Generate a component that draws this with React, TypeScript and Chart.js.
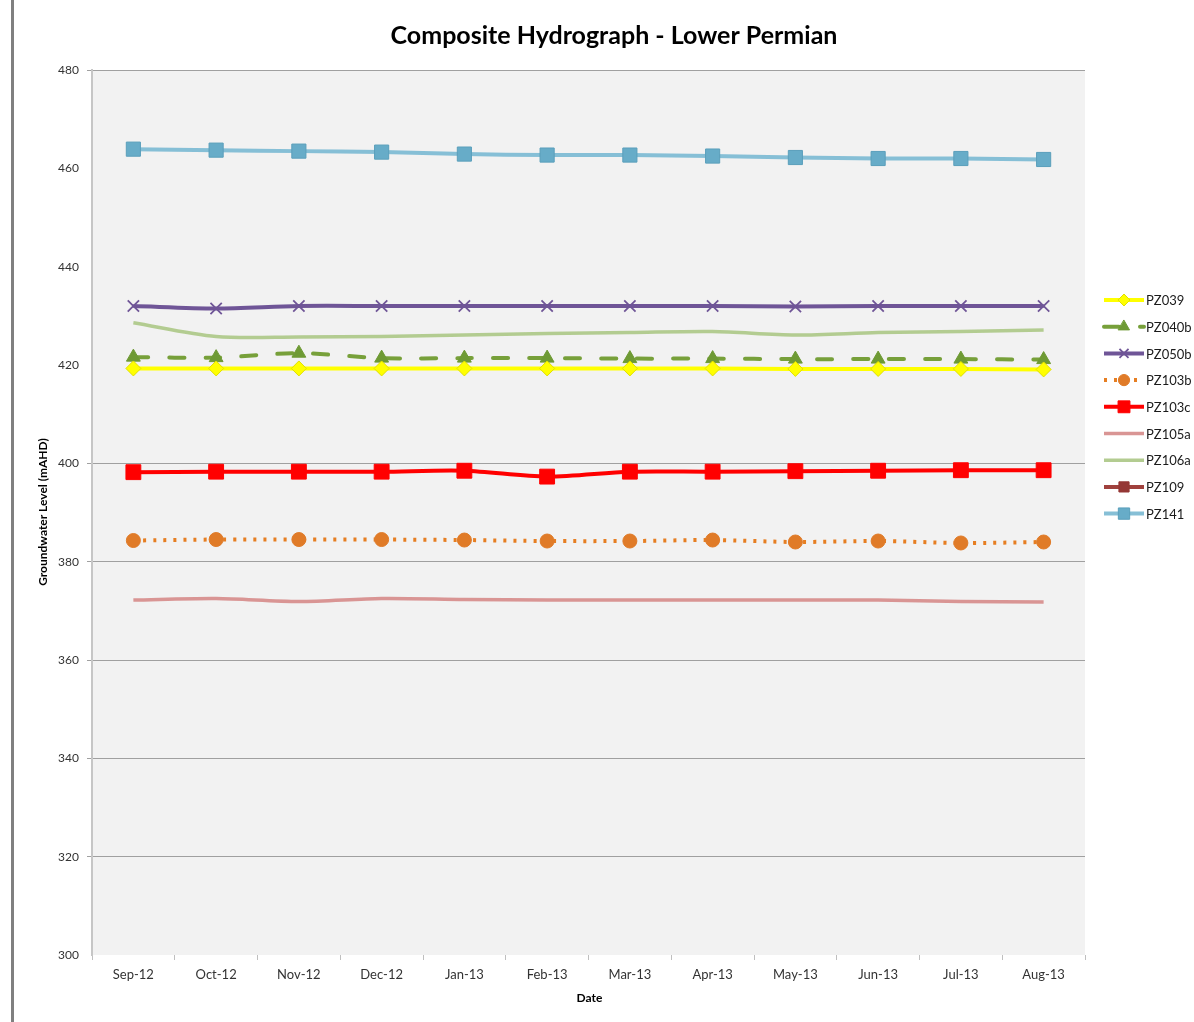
import React, { useEffect, useRef } from 'react';
import { Chart, registerables } from 'chart.js';
import { drawPoint } from 'chart.js/helpers';

Chart.register(...registerables);

const dates = ['Sep-12', 'Oct-12', 'Nov-12', 'Dec-12', 'Jan-13', 'Feb-13', 'Mar-13', 'Apr-13', 'May-13', 'Jun-13', 'Jul-13', 'Aug-13'];
const pz039 = [419.3, 419.3, 419.3, 419.3, 419.3, 419.3, 419.3, 419.3, 419.2, 419.2, 419.2, 419.1];
const pz040b = [421.6, 421.5, 422.4, 421.4, 421.4, 421.4, 421.3, 421.3, 421.2, 421.2, 421.2, 421.1];
const pz050b = [432.0, 431.5, 432.0, 432.0, 432.0, 432.0, 432.0, 432.0, 431.9, 432.0, 432.0, 432.0];
const pz103b = [384.3, 384.5, 384.5, 384.5, 384.4, 384.2, 384.2, 384.4, 384.0, 384.2, 383.8, 384.0];
const pz103c = [398.2, 398.3, 398.3, 398.3, 398.5, 397.3, 398.3, 398.3, 398.4, 398.5, 398.6, 398.6];
const pz105a = [372.2, 372.5, 371.9, 372.5, 372.3, 372.2, 372.2, 372.2, 372.2, 372.2, 371.9, 371.8];
const pz106a = [428.6, 425.8, 425.7, 425.8, 426.1, 426.4, 426.6, 426.8, 426.1, 426.6, 426.8, 427.1];
const pz109: (number | null)[] = [null, null, null, null, null, null, null, null, null, null, null, null];
const pz141 = [463.9, 463.7, 463.5, 463.3, 462.9, 462.7, 462.7, 462.5, 462.2, 462.0, 462.0, 461.8];

const yTicks = [300, 320, 340, 360, 380, 400, 420, 440, 460, 480];
const hiddenGrid = [300, 420, 440, 460];

const chartTitle = 'Composite Hydrograph - Lower Permian';
const xTitle = 'Date';
const yTitle = 'Groundwater Level (mAHD)';

const FONT = 'Lato';

const decoPlugin = {
  id: 'deco',
  beforeDraw(chart: any) {
    const { ctx, chartArea: a } = chart;
    ctx.save();
    ctx.fillStyle = '#ffffff';
    ctx.fillRect(0, 0, chart.width, chart.height);
    ctx.fillStyle = '#f2f2f2';
    ctx.fillRect(a.left, a.top, a.right - a.left, a.bottom - a.top);
    ctx.restore();
  },
  afterDraw(chart: any) {
    const { ctx, chartArea: a } = chart;
    ctx.save();
    // page border
    ctx.fillStyle = '#808080';
    ctx.fillRect(11, 0, 3, chart.height);
    // title
    ctx.fillStyle = '#000';
    ctx.font = `bold 25px ${FONT}`;
    ctx.textAlign = 'center';
    ctx.textBaseline = 'middle';
    ctx.fillText(chartTitle, 614, 36);
    // axis titles
    ctx.font = `bold 12px ${FONT}`;
    ctx.fillText(xTitle, (a.left + a.right) / 2 + 1, 998);
    ctx.save();
    ctx.translate(43, 512);
    ctx.rotate(-Math.PI / 2);
    ctx.fillText(yTitle, 0, 0);
    ctx.restore();
    // legend
    chart.data.datasets.forEach((ds: any, i: number) => {
      const y = 300 + i * 26.7;
      ctx.save();
      ctx.strokeStyle = ds.borderColor;
      ctx.lineWidth = ds.borderWidth;
      ctx.lineCap = ds.borderCapStyle || 'butt';
      ctx.setLineDash(ds.borderDash || []);
      ctx.beginPath();
      ctx.moveTo(1104, y);
      ctx.lineTo(1144, y);
      ctx.stroke();
      ctx.setLineDash([]);
      if (ds.pointRadius > 0) {
        ctx.fillStyle = ds.pointBackgroundColor;
        ctx.strokeStyle = ds.pointBorderColor;
        ctx.lineWidth = ds.pointBorderWidth;
        drawPoint(ctx, { pointStyle: ds.pointStyle, radius: ds.pointRadius * 0.8, rotation: 0, borderWidth: ds.pointBorderWidth } as any, 1124, y);
      }
      ctx.restore();
      ctx.fillStyle = '#1a1a1a';
      ctx.font = `13px ${FONT}`;
      ctx.textAlign = 'left';
      ctx.textBaseline = 'middle';
      ctx.fillText(ds.label, 1146, y + 1);
    });
    ctx.restore();
  },
};

export default function App() {
  const ref = useRef<HTMLCanvasElement>(null);
  useEffect(() => {
    const tension = 0.3;
    const chart = new Chart(ref.current!, {
      type: 'line',
      data: {
        labels: dates,
        datasets: [
          {
            label: 'PZ039', data: pz039, borderColor: '#ffff00', borderWidth: 4, tension,
            pointStyle: 'rectRot', pointRadius: 7.5, pointBackgroundColor: '#ffff00', pointBorderColor: '#e0e000', pointBorderWidth: 1,
          },
          {
            label: 'PZ040b', data: pz040b, borderColor: '#77a03a', borderWidth: 4, borderDash: [15, 21], borderCapStyle: 'round', tension,
            pointStyle: 'triangle', pointRadius: 8, pointBackgroundColor: '#6e9a34', pointBorderColor: '#6e9a34', pointBorderWidth: 1,
          },
          {
            label: 'PZ050b', data: pz050b, borderColor: '#6f5597', borderWidth: 4, tension,
            pointStyle: 'crossRot', pointRadius: 8, pointBackgroundColor: '#6f5597', pointBorderColor: '#6f5597', pointBorderWidth: 1.8,
          },
          {
            label: 'PZ103b', data: pz103b, borderColor: '#e67e22', borderWidth: 4, borderDash: [3, 7], tension,
            pointStyle: 'circle', pointRadius: 7, pointBackgroundColor: '#e07b28', pointBorderColor: '#e07b28', pointBorderWidth: 1,
          },
          {
            label: 'PZ103c', data: pz103c, borderColor: '#ff0000', borderWidth: 4, tension,
            pointStyle: 'rect', pointRadius: 10.5, pointBackgroundColor: '#ff0000', pointBorderColor: '#ff0000', pointBorderWidth: 1,
          },
          {
            label: 'PZ105a', data: pz105a, borderColor: '#d99594', borderWidth: 3.5, tension,
            pointStyle: 'circle', pointRadius: 0, pointBackgroundColor: '#d99594', pointBorderColor: '#d99594', pointBorderWidth: 1,
          },
          {
            label: 'PZ106a', data: pz106a, borderColor: '#b3cc91', borderWidth: 3.5, tension,
            pointStyle: 'circle', pointRadius: 0, pointBackgroundColor: '#b3cc91', pointBorderColor: '#b3cc91', pointBorderWidth: 1,
          },
          {
            label: 'PZ109', data: pz109, borderColor: '#a0413d', borderWidth: 4, tension,
            pointStyle: 'rect', pointRadius: 9, pointBackgroundColor: '#953735', pointBorderColor: '#953735', pointBorderWidth: 1,
          },
          {
            label: 'PZ141', data: pz141, borderColor: '#86bfd6', borderWidth: 4, tension,
            pointStyle: 'rect', pointRadius: 10, pointBackgroundColor: '#67acc8', pointBorderColor: '#5a9fbb', pointBorderWidth: 1,
          },
        ] as any,
      },
      options: {
        responsive: false,
        animation: false,
        events: [],
        layout: { padding: { top: 70, right: 109, bottom: 0, left: 0 } },
        plugins: {
          legend: { display: false },
          title: { display: false },
          tooltip: { enabled: false },
        },
        scales: {
          x: {
            offset: true,
            afterFit: (s: any) => { s.height = 67; },
            border: { display: false },
            grid: { offset: true, drawOnChartArea: false, drawTicks: true, tickLength: 5, color: '#bfbfbf', lineWidth: 1 },
            ticks: { font: { family: FONT, size: 13 }, color: '#333', padding: 7, maxRotation: 0, autoSkip: false },
          },
          y: {
            min: 300,
            max: 480,
            afterFit: (s: any) => { s.width = 92; },
            afterBuildTicks: (s: any) => { s.ticks = yTicks.map((v) => ({ value: v })); },
            border: { display: true, color: '#c6c6c6', width: 2 },
            grid: {
              drawTicks: true,
              tickLength: 5,
              lineWidth: 1,
              color: (c: any) => (c.tick && hiddenGrid.includes(c.tick.value) ? 'rgba(0,0,0,0)' : '#a0a0a0'),
            },
            ticks: { font: { family: FONT, size: 12 }, color: '#333', padding: 8, stepSize: 20 },
          },
        },
      },
      plugins: [decoPlugin],
    });
    return () => chart.destroy();
  }, []);
  return (
    <div style={{ position: 'absolute', left: 0, top: 0, width: 1194, height: 1022, background: '#fff' }}>
      <canvas ref={ref} width={1194} height={1022} style={{ display: 'block', width: 1194, height: 1022 }} />
    </div>
  );
}
